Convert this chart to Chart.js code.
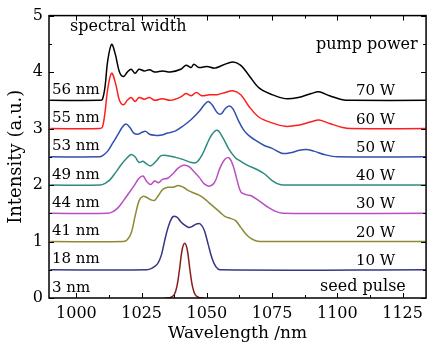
<!DOCTYPE html>
<html>
<head>
<meta charset="utf-8">
<script src="https://cdn.jsdelivr.net/npm/chart.js@4"></script>
<style>
  html, body { margin: 0; padding: 0; background: #fff; }
  #wrap { width: 429px; height: 345px; }
</style>
</head>
<body>
<div id="wrap"><canvas id="chart" width="429" height="345"></canvas></div>
<script>
// Spectra at each pump power, offset vertically by 0.5 (wavelength nm, intensity a.u.)
const wl70 = [990, 1009, 1010, 1011, 1012, 1013.5, 1015, 1016.5, 1018, 1019.5, 1021, 1022.5, 1024, 1026, 1028, 1030, 1033, 1036, 1040, 1042, 1044, 1045, 1047, 1050, 1053, 1056, 1060, 1063, 1066, 1070, 1075, 1080, 1085, 1090, 1093, 1097, 1102, 1105, 1135];
const p70  = [3.5, 3.5, 3.52, 3.75, 4.2, 4.49, 4.3, 4.0, 3.92, 4.0, 4.05, 3.98, 4.05, 4.02, 4.04, 4.0, 4.02, 4.0, 4.05, 4.12, 4.08, 4.14, 4.08, 4.1, 4.07, 4.12, 4.18, 4.12, 3.95, 3.72, 3.6, 3.53, 3.55, 3.62, 3.65, 3.58, 3.51, 3.5, 3.5];

const wl60 = [990, 1009, 1010, 1011, 1012, 1013.5, 1015, 1016.5, 1018, 1019.5, 1021, 1022.5, 1024, 1026, 1028, 1030, 1033, 1036, 1040, 1042, 1044, 1046, 1048, 1051, 1054, 1057, 1060, 1063, 1066, 1070, 1075, 1080, 1085, 1090, 1093, 1097, 1102, 1105, 1135];
const p60  = [3.0, 3.0, 3.03, 3.3, 3.7, 3.98, 3.8, 3.5, 3.42, 3.5, 3.55, 3.48, 3.55, 3.52, 3.55, 3.5, 3.53, 3.5, 3.56, 3.62, 3.58, 3.64, 3.58, 3.6, 3.6, 3.64, 3.67, 3.6, 3.4, 3.2, 3.1, 3.04, 3.06, 3.12, 3.15, 3.09, 3.02, 3.0, 3.0];

const wl50 = [990, 1009, 1010, 1012, 1014, 1016, 1017.5, 1019, 1020.5, 1022, 1023.5, 1025, 1026.5, 1028, 1030, 1032, 1035, 1038, 1041, 1044, 1047, 1049, 1050.5, 1052, 1054, 1055.5, 1057, 1058.5, 1060, 1062, 1064, 1066, 1069, 1072, 1075, 1079, 1082, 1085, 1088, 1091, 1095, 1100, 1135];
const p50  = [2.5, 2.5, 2.52, 2.6, 2.75, 2.9, 3.02, 3.08, 3.02, 2.92, 2.9, 2.93, 2.95, 2.9, 2.88, 2.88, 2.92, 2.96, 3.05, 3.16, 3.3, 3.42, 3.48, 3.42, 3.28, 3.26, 3.35, 3.4, 3.35, 3.15, 2.98, 2.88, 2.78, 2.7, 2.65, 2.56, 2.57, 2.61, 2.63, 2.6, 2.54, 2.5, 2.5];

const wl40 = [990, 1009, 1011, 1013, 1015, 1017, 1019, 1021, 1022.5, 1024, 1025.5, 1027, 1028.5, 1030.5, 1032.5, 1035, 1038, 1041, 1044, 1046, 1048, 1050, 1052, 1054, 1056, 1058.5, 1061, 1063, 1066, 1069, 1072, 1075, 1078, 1082, 1135];
const p40  = [2.0, 2.0, 2.03, 2.1, 2.22, 2.35, 2.46, 2.54, 2.5, 2.4, 2.42, 2.37, 2.34, 2.42, 2.52, 2.52, 2.49, 2.45, 2.4, 2.4, 2.52, 2.72, 2.9, 2.97, 2.85, 2.63, 2.48, 2.42, 2.34, 2.28, 2.2, 2.08, 2.01, 2.0, 2.0];

const wl30 = [990, 1012, 1014, 1016, 1018, 1020, 1022, 1024, 1025.5, 1027, 1028.5, 1030, 1031.5, 1033, 1035, 1037, 1039, 1041, 1043, 1045, 1047, 1049, 1051, 1053, 1055, 1057, 1058.5, 1060, 1061.5, 1063, 1065, 1067, 1070, 1073, 1076, 1079, 1135];
const p30  = [1.5, 1.5, 1.53, 1.6, 1.72, 1.85, 1.98, 2.12, 2.16, 2.06, 2.01, 2.07, 2.04, 2.1, 2.12, 2.2, 2.3, 2.35, 2.33, 2.24, 2.14, 2.02, 1.98, 2.05, 2.3, 2.46, 2.48, 2.35, 2.1, 1.88, 1.83, 1.81, 1.72, 1.62, 1.54, 1.5, 1.5];

const wl20 = [990, 1018, 1019.5, 1021, 1022.5, 1024, 1025.5, 1027, 1028.5, 1030, 1031.5, 1033, 1035, 1037, 1039, 1041, 1043, 1045, 1047, 1049, 1051, 1053, 1055, 1057, 1059, 1061, 1063, 1065, 1067, 1069, 1072, 1135];
const p20  = [1.0, 1.0, 1.03, 1.15, 1.45, 1.72, 1.8, 1.78, 1.74, 1.73, 1.82, 1.92, 1.96, 1.96, 1.99, 1.96, 1.9, 1.86, 1.82, 1.76, 1.68, 1.6, 1.52, 1.44, 1.41, 1.37, 1.25, 1.13, 1.05, 1.01, 1.0, 1.0];

const wl10 = [990, 1027, 1029, 1031, 1032.5, 1034, 1035.5, 1037, 1038.5, 1040, 1041.5, 1043, 1044.5, 1046, 1047.5, 1049, 1050.5, 1052, 1053.5, 1055, 1135];
const p10  = [0.5, 0.5, 0.53, 0.6, 0.75, 1.05, 1.3, 1.44, 1.43, 1.35, 1.29, 1.25, 1.27, 1.31, 1.31, 1.2, 0.95, 0.7, 0.55, 0.5, 0.5];

const wlSeed = [1034, 1036, 1037.5, 1038.5, 1039.5, 1040.5, 1041.5, 1042.5, 1043.5, 1044.5, 1045.5, 1047, 1049];
const pSeed  = [0, 0.01, 0.06, 0.2, 0.5, 0.85, 0.97, 0.85, 0.5, 0.2, 0.06, 0.01, 0];

const powerLabels = ['70 W', '60 W', '50 W', '40 W', '30 W', '20 W', '10 W', 'seed pulse'];
const widthLabels = ['56 nm', '55 nm', '53 nm', '49 nm', '44 nm', '41 nm', '18 nm', '3 nm'];
const offsets = [3.5, 3.0, 2.5, 2.0, 1.5, 1.0, 0.5, 0];

const xTicks = [1000, 1025, 1050, 1075, 1100, 1125];
const yTicks = [0, 1, 2, 3, 4, 5];

const SERIF = "'DejaVu Serif', 'Liberation Serif', serif";

function pts(xs, ys) {
    return xs.map((x, i) => ({ x: x, y: ys[i] }));
}

const series = [
    { data: pts(wl70, p70), color: '#000000' },
    { data: pts(wl60, p60), color: '#ff1e1e' },
    { data: pts(wl50, p50), color: '#3050b0' },
    { data: pts(wl40, p40), color: '#2e8a80' },
    { data: pts(wl30, p30), color: '#b850c0' },
    { data: pts(wl20, p20), color: '#8c8a34' },
    { data: pts(wl10, p10), color: '#363682' },
    { data: pts(wlSeed, pSeed), color: '#8b1c1c' }
];

// frame, inward ticks and curve annotations
const framePlugin = {
    id: 'frame',
    afterDraw(chart) {
        const ctx = chart.ctx;
        const a = chart.chartArea;
        const xs = chart.scales.x, ys = chart.scales.y;
        ctx.save();
        ctx.strokeStyle = '#000';
        ctx.lineWidth = 1.5;
        ctx.strokeRect(a.left, a.top, a.right - a.left, a.bottom - a.top);

        ctx.lineWidth = 1;
        ctx.beginPath();
        for (let v = 987.5; v <= 1135; v += 12.5) {
            if (v < xs.min || v > xs.max) continue;
            const len = (v % 25 === 0) ? 5 : 3;
            const px = Math.round(xs.getPixelForValue(v)) + 0.5;
            ctx.moveTo(px, a.bottom); ctx.lineTo(px, a.bottom - len);
            ctx.moveTo(px, a.top); ctx.lineTo(px, a.top + len);
        }
        for (let v = 0; v <= 5; v += 0.5) {
            const len = (v % 1 === 0) ? 5 : 3;
            const py = Math.round(ys.getPixelForValue(v)) + 0.5;
            ctx.moveTo(a.left, py); ctx.lineTo(a.left + len, py);
            ctx.moveTo(a.right, py); ctx.lineTo(a.right - len, py);
        }
        ctx.stroke();

        ctx.fillStyle = '#000';
        ctx.textBaseline = 'alphabetic';
        ctx.font = '15px ' + SERIF;
        offsets.forEach((off, i) => {
            const py = ys.getPixelForValue(off);
            ctx.textAlign = 'left';
            ctx.fillText(widthLabels[i], a.left + 3, py - 6.5);
            if (i < 7) {
                ctx.fillText(powerLabels[i], 356, py - 5);
            }
        });
        ctx.font = '16px ' + SERIF;
        ctx.fillText('seed pulse', 320, 291);
        ctx.fillText('spectral width', 70, 31);
        ctx.fillText('pump power', 316, 49);
        ctx.restore();
    }
};

new Chart(document.getElementById('chart'), {
    type: 'line',
    data: {
        datasets: series.map(s => ({
            data: s.data,
            borderColor: s.color,
            borderWidth: 1.5,
            pointRadius: 0,
            tension: 0.35,
            fill: false
        }))
    },
    options: {
        responsive: false,
        animation: false,
        layout: { padding: { top: 13, right: 1, left: 0, bottom: 0 } },
        plugins: {
            legend: { display: false },
            tooltip: { enabled: false }
        },
        scales: {
            x: {
                type: 'linear',
                min: 989.5,
                max: 1134,
                afterBuildTicks: s => { s.ticks = xTicks.map(v => ({ value: v })); },
                afterFit: s => { s.height = 47; },
                grid: { display: false, drawTicks: false },
                border: { display: false },
                ticks: {
                    color: '#000',
                    padding: 6,
                    maxRotation: 0,
                    autoSkip: false,
                    callback: v => String(v),
                    font: { family: SERIF, size: 16 }
                },
                title: {
                    display: true,
                    text: 'Wavelength /nm',
                    color: '#000',
                    padding: { top: 0, bottom: 1 },
                    font: { family: SERIF, size: 17 }
                }
            },
            y: {
                type: 'linear',
                min: 0,
                max: 5,
                afterBuildTicks: s => { s.ticks = yTicks.map(v => ({ value: v })); },
                afterFit: s => { s.width = 49; },
                grid: { display: false, drawTicks: false },
                border: { display: false },
                ticks: {
                    color: '#000',
                    padding: 6,
                    callback: v => String(v),
                    font: { family: SERIF, size: 16 }
                },
                title: {
                    display: true,
                    text: 'Intensity (a.u.)',
                    color: '#000',
                    padding: { top: 6, bottom: 0 },
                    font: { family: SERIF, size: 18 }
                }
            }
        }
    },
    plugins: [framePlugin]
});
</script>
</body>
</html>
